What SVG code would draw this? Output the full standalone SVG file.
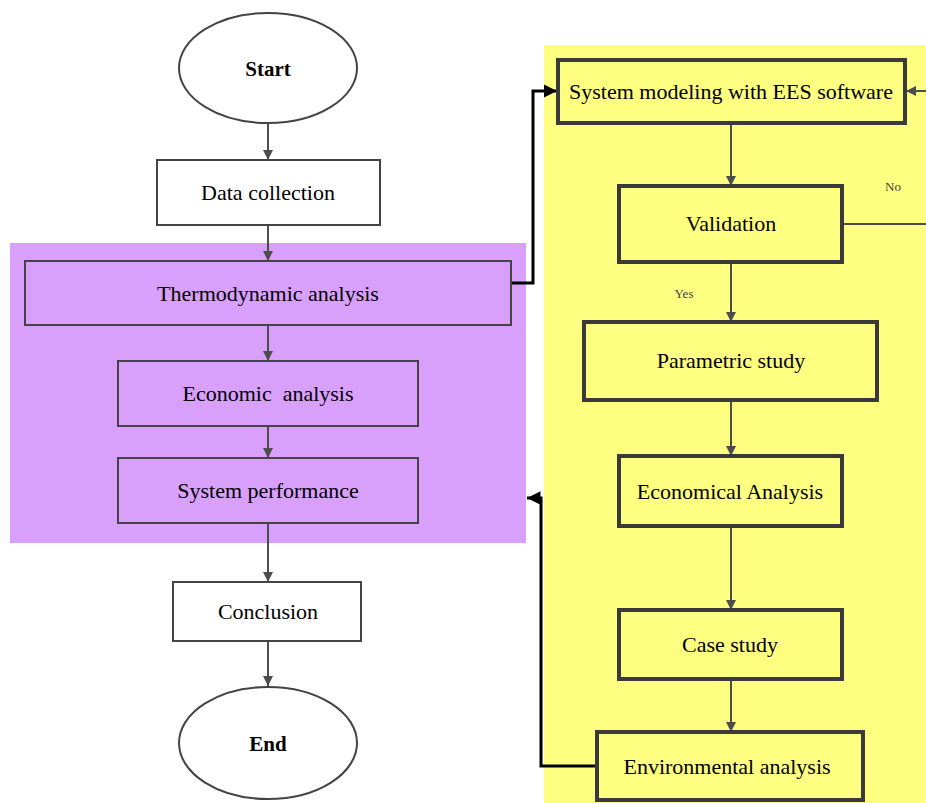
<svg xmlns="http://www.w3.org/2000/svg" width="926" height="803" viewBox="0 0 926 803">
<defs>
<marker id="ag" viewBox="0 0 10 10" refX="10" refY="5" markerWidth="5" markerHeight="5" orient="auto" markerUnits="strokeWidth"><path d="M0,0 L10,5 L0,10 z" fill="#4d4d4d"/></marker>
<marker id="ak" viewBox="0 0 10 10" refX="10" refY="5" markerWidth="4.5" markerHeight="4.5" orient="auto" markerUnits="strokeWidth"><path d="M0,0 L10,5 L0,10 z" fill="#000"/></marker>
</defs>
<style>
text{font-family:"Liberation Serif","Times New Roman",serif;fill:#000;text-anchor:middle;dominant-baseline:central}
.t{font-size:22px}
.b{font-size:21px;font-weight:bold}
.s{font-size:13px;fill:#444}
.w{fill:#fff;stroke:#444;stroke-width:2}
.p{fill:#d9a0fb;stroke:#444;stroke-width:2}
.y{fill:#fefe80;stroke:#3a3a3a;stroke-width:4}
.c{fill:none;stroke:#4d4d4d;stroke-width:2;marker-end:url(#ag)}
.k{fill:none;stroke:#000;stroke-width:3;marker-end:url(#ak)}
</style>
<rect x="0" y="0" width="926" height="803" fill="#fff"/>
<rect id="bg-purple" x="10" y="243" width="516" height="300" fill="#d9a0fb"/>
<rect id="bg-yellow" x="544" y="45" width="382" height="758" fill="#fefe80"/>

<g id="connectors">
<path class="c" d="M268,123 V160"/>
<path class="c" d="M268,225 V261"/>
<path class="c" d="M268,325 V361"/>
<path class="c" d="M268,426 V458"/>
<path class="c" d="M268,523 V582"/>
<path class="c" d="M268,641 V686"/>
<path class="c" d="M731,124 V186"/>
<path class="c" d="M731,262 V322"/>
<path class="c" d="M731,400 V456"/>
<path class="c" d="M731,526 V610"/>
<path class="c" d="M731,679 V732"/>
<path fill="none" stroke="#4d4d4d" stroke-width="2" d="M842,224 H926"/>
<path class="c" d="M926,91 H906"/>
<path class="k" d="M511,283 H533 V91 H557"/>
<path class="k" d="M597,766 H541 V498 H527"/>
<text class="s" x="893" y="186">No</text>
<text class="s" x="684" y="293">Yes</text>
</g>

<g id="start"><ellipse class="w" cx="268" cy="68" rx="89" ry="55"/><text class="b" x="268" y="69">Start</text></g>
<g id="data"><rect class="w" x="157" y="160" width="223" height="65"/><text class="t" x="268" y="192">Data collection</text></g>
<g id="thermo"><rect class="p" x="25" y="261" width="486" height="64"/><text class="t" x="268" y="293">Thermodynamic analysis</text></g>
<g id="econ"><rect class="p" x="118" y="361" width="300" height="65"/><text class="t" x="268" y="393" xml:space="preserve">Economic  analysis</text></g>
<g id="perf"><rect class="p" x="118" y="458" width="300" height="65"/><text class="t" x="268" y="490">System performance</text></g>
<g id="concl"><rect class="w" x="173" y="582" width="188" height="59"/><text class="t" x="268" y="611">Conclusion</text></g>
<g id="end"><ellipse class="w" cx="268" cy="743" rx="89" ry="56"/><text class="b" x="268" y="744">End</text></g>

<g id="model"><rect class="y" x="558" y="60" width="347" height="63"/><text class="t" x="731" y="91">System modeling with EES software</text></g>
<g id="valid"><rect class="y" x="619" y="186" width="223" height="76"/><text class="t" x="731" y="223">Validation</text></g>
<g id="param"><rect class="y" x="584" y="322" width="293" height="78"/><text class="t" x="731" y="360">Parametric study</text></g>
<g id="econa"><rect class="y" x="619" y="456" width="223" height="70"/><text class="t" x="730" y="491">Economical Analysis</text></g>
<g id="case"><rect class="y" x="619" y="610" width="223" height="69"/><text class="t" x="730" y="644">Case study</text></g>
<g id="env"><rect class="y" x="597" y="732" width="266" height="68"/><text class="t" x="727" y="766">Environmental analysis</text></g>
</svg>
